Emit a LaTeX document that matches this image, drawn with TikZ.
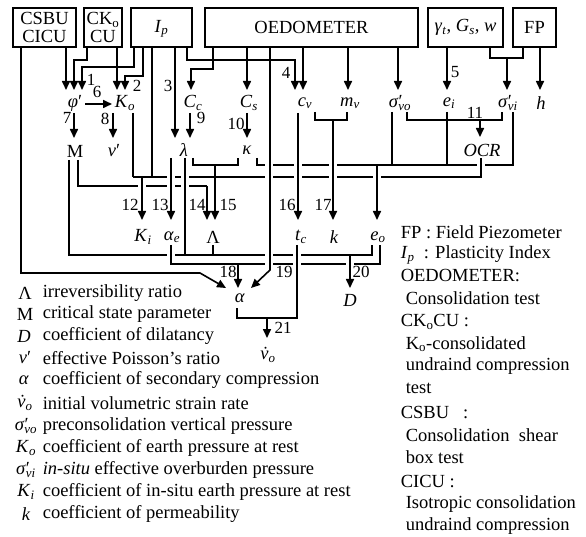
\documentclass[tikz,border=0pt]{standalone}
\usepackage{fontspec}
\setmainfont{Liberation Serif}
\usetikzlibrary{arrows.meta}
\newcommand\myfs{\fontsize{18.5}{18}\selectfont}
\newcommand\mynfs{\fontsize{17}{17}\selectfont}
\newcommand\sbs[1]{\textsubscript{\smash{#1}}}
\newcommand\sigp[1]{\textit{σ}′\kern-0.22em\sbs{\textit{#1}}}
\newcommand\vdot{\textit{\accent"02D9 v}}
\begin{document}
\begin{tikzpicture}[x=1pt,y=-1pt,line width=1.6pt,
  box/.style={draw,line width=1.7pt,inner sep=0pt,minimum height=39pt,align=center,font=\myfs},
  lbl/.style={inner sep=0pt,font=\myfs},
  num/.style={inner sep=0pt,font=\mynfs},
  arr/.style={-{Triangle[width=8pt,length=9pt]}},
  legtxt/.style={inner sep=0pt,anchor=west,font=\myfs}]
\useasboundingbox (0,0) rectangle (586,537);
% boxes
\node[box,minimum width=63pt] (csbu) at (44.5,27.5) {CSBU\\CICU};
\node[box,minimum width=38pt] (ck) at (103,27.5) {CK\sbs{o}\\CU};
\node[box,minimum width=61pt] (ip) at (161.5,27.5) {\textit{I}\sbs{\textit{p}}};
\node[box,minimum width=213pt] (oedo) at (311.5,27.5) {OEDOMETER};
\node[box,minimum width=75pt] (gam) at (465.5,27.5) {\textit{γ}\sbs{\textit{t}}, \textit{G}\sbs{\textit{s}}, \textit{w}};
\node[box,minimum width=43pt] (fp) at (534.5,27.5) {FP};
% row 1
\node[lbl] (phi) at (75,103) {\textit{φ}′};
\node[lbl] (Ko) at (125,103) {\textit{K}\sbs{\textit{o}}};
\node[lbl] (Cc) at (193,103) {\textit{C}\sbs{\textit{c}}};
\node[lbl] (Cs) at (249,103) {\textit{C}\sbs{\textit{s}}};
\node[lbl] (cv) at (305,103) {\textit{c}\sbs{\textit{v}}};
\node[lbl] (mv) at (350,103) {\textit{m}\sbs{\textit{v}}};
\node[lbl] (svo) at (400,103) {\sigp{vo}};
\node[lbl] (ei) at (449,103) {\textit{e}\sbs{\textit{i}}};
\node[lbl] (svi) at (508,103) {\sigp{vi}};
\node[lbl] (h) at (541,103) {\textit{h}};
% row 2
\node[lbl] (M) at (75,151) {M};
\node[lbl] (nu) at (114,151) {\textit{ν}′};
\node[lbl] (lam) at (184,150) {\textit{λ}};
\node[lbl] (kap) at (247,150) {\textit{κ}};
\node[lbl] (OCR) at (482,150) {\textit{OCR}};
% row 3
\node[lbl] (Ki) at (143,237) {\textit{K}\sbs{\textit{i}}};
\node[lbl] (ae) at (172,237) {\textit{α}\sbs{\textit{e}}};
\node[lbl] (Lam) at (213,237) {Λ};
\node[lbl] (tc) at (301,237) {\textit{t}\sbs{\textit{c}}};
\node[lbl] (kk) at (334,237) {\textit{k}};
\node[lbl] (eo) at (378,237) {\textit{e}\sbs{\textit{o}}};
% row 4, 5
\node[lbl] (alpha) at (240,298) {\textit{α}};
\node[lbl] (D) at (350,300) {\textit{D}};
\node[lbl] (vo) at (268,355) {\vdot\sbs{\textit{o}}};
% top arrows
\draw[arr] (66,47) -- (66,90);
\draw[arr] (87,47) -- (87,60) -- (74,60) -- (74,90);
\draw[arr] (134,47) -- (134,67) -- (82,67) -- (82,90);
\draw[arr] (117,47) -- (117,90);
\draw[arr] (143,47) -- (143,76) -- (125,76) -- (125,90);
\draw[arr] (175,47) -- (175,138);
\draw[arr] (187,47) -- (187,60) -- (295,60) -- (295,90);
\draw[arr] (213,47) -- (213,69) -- (191,69) -- (191,90);
\draw[arr] (247,47) -- (247,90);
\draw[arr] (303,47) -- (303,90);
\draw[arr] (348,47) -- (348,90);
\draw[arr] (398,47) -- (398,90);
\draw[arr] (447,47) -- (447,90);
\draw (490,47) -- (490,58) -- (523,58) -- (523,47);
\draw[arr] (507,58) -- (507,90);
\draw[arr] (540,47) -- (540,90);
% row1 -> row2
\draw[arr] (85,104) -- (112,104);
\draw[arr] (74,113) -- (74,138);
\draw[arr] (113,113) -- (113,138);
\draw[arr] (190,113) -- (190,138);
\draw[arr] (247,113) -- (247,138);
\draw (407,112) -- (407,120) -- (502,120) -- (502,112);
\draw[arr] (480,120) -- (480,137);
\draw (315,112) -- (315,120) -- (347,120) -- (347,112);
% K_i
\draw (133,113) -- (133,177);
\draw (152,47) -- (152,177);
\draw (133,177) -- (167,177) (175,177) -- (181,177) (189,177) -- (265,177) (273,177) -- (294,177) (302,177) -- (329,177) (337,177) -- (373,177) (381,177) -- (481,177) -- (481,158);
\draw[arr] (142,177) -- (142,220);
% M -> Lambda
\draw (78,160) -- (78,186) -- (138,186) (146,186) -- (167,186) (175,186) -- (181,186) (189,186) -- (207,186);
\draw[arr] (207,186) -- (207,220);
% lambda legs
\draw[arr] (171,158) -- (171,220);
\draw (185,158) -- (185,255);
\draw (193,158) -- (193,165) -- (238,165) -- (238,158);
\draw[arr] (215,165) -- (215,220);
% kappa -> e_o
\draw (257,158) -- (257,165) -- (265,165) (273,165) -- (294,165) (302,165) -- (329,165) (337,165) -- (477,165) (485,165) -- (513,165) -- (513,112);
\draw (392,112) -- (392,165);
\draw (447,112) -- (447,165);
\draw[arr] (377,165) -- (377,220);
% c_v, m_v
\draw[arr] (298,113) -- (298,220);
\draw[arr] (333,120) -- (333,220);
% lower lines
\draw (69,160) -- (69,255) -- (167,255) (175,255) -- (265,255) (273,255) -- (293,255) (301,255) -- (372,255) -- (372,245);
\draw (213,245) -- (213,255);
\draw[arr] (350,255) -- (350,288);
\draw (171,245) -- (171,264) -- (265,264) (273,264) -- (293,264) (301,264) -- (346,264) (354,264) -- (380,264) -- (380,245);
\draw[arr] (238,264) -- (238,288);
\draw[arr] (21,47) -- (21,273) -- (200,273) -- (226,288);
\draw[arr] (270,47) -- (270,270) -- (251,288);
\draw (297,245) -- (297,318) -- (237,318) -- (237,308);
\draw[arr] (267,318) -- (267,338);
% numbers
\node[num] at (91,80) {1};
\node[num] at (137,86) {2};
\node[num] at (168,86) {3};
\node[num] at (286,73) {4};
\node[num] at (455,72) {5};
\node[num] at (97,92) {6};
\node[num] at (67,118) {7};
\node[num] at (105,119) {8};
\node[num] at (201,118) {9};
\node[num] at (236,124) {10};
\node[num] at (475,113) {11};
\node[num] at (130,205) {12};
\node[num] at (160,205) {13};
\node[num] at (197,205) {14};
\node[num] at (228,205) {15};
\node[num] at (287,205) {16};
\node[num] at (323,205) {17};
\node[num] at (228,272) {18};
\node[num] at (284,272) {19};
\node[num] at (361,272) {20};
\node[num] at (283,328) {21};
% left legend
\node[lbl] (l1) at (25,293) {Λ}; \node[legtxt] at (42,293) {irreversibility ratio};
\node[lbl] (l2) at (25,314) {M}; \node[legtxt] at (42,314) {critical state parameter};
\node[lbl] (l3) at (24,336) {\textit{D}}; \node[legtxt] at (42,336) {coefficient of dilatancy};
\node[lbl] (l4) at (25,358) {\textit{ν}′}; \node[legtxt] at (42,358) {effective Poisson’s ratio};
\node[lbl] (l5) at (24,380) {\textit{α}}; \node[legtxt] at (42,380) {coefficient of secondary compression};
\node[lbl] (l6) at (25,403) {\vdot\sbs{\textit{o}}}; \node[legtxt] at (42,403) {initial volumetric strain rate};
\node[lbl] (l7) at (26,426) {\sigp{vo}}; \node[legtxt] at (42,426) {preconsolidation vertical pressure};
\node[lbl] (l8) at (26,448) {\textit{K}\sbs{\textit{o}}}; \node[legtxt] at (42,448) {coefficient of earth pressure at rest};
\node[lbl] (l9) at (26,470) {\sigp{vi}}; \node[legtxt] at (42,470) {\textit{in-situ} effective overburden pressure};
\node[lbl] (l10) at (26,492) {\textit{K}\sbs{\textit{i}}}; \node[legtxt] at (42,492) {coefficient of in-situ earth pressure at rest};
\node[lbl] (l11) at (26,514) {\textit{k}}; \node[legtxt] at (42,514) {coefficient of permeability};
% right legend
\node[legtxt] at (400,232) {FP : Field Piezometer};
\node[legtxt] at (400,254) {\textit{I}\sbs{\textit{p}}\ \ : Plasticity Index};
\node[legtxt] at (400,276) {OEDOMETER:};
\node[legtxt] at (405,298) {Consolidation test};
\node[legtxt] at (400,322) {CK\sbs{o}CU :};
\node[legtxt] at (405,344) {K\sbs{o}-consolidated};
\node[legtxt] at (405,366) {undraind compression};
\node[legtxt] at (405,388) {test};
\node[legtxt] at (400,413) {CSBU\ \ \ :};
\node[legtxt] at (405,435) {Consolidation\ \ shear};
\node[legtxt] at (405,457) {box test};
\node[legtxt] at (400,482) {CICU :};
\node[legtxt] at (405,504) {Isotropic consolidation};
\node[legtxt] at (405,526) {undraind compression};
\end{tikzpicture}
\end{document}
